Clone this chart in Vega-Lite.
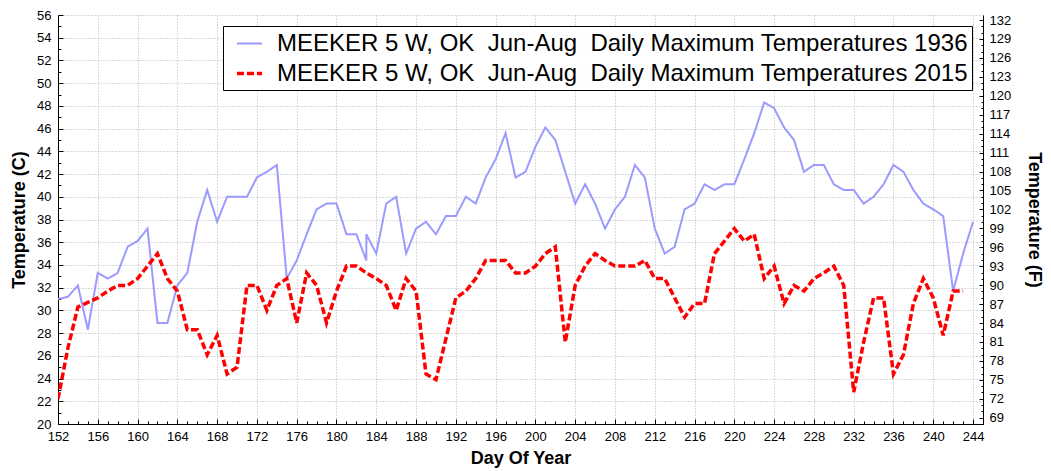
{
  "$schema": "https://vega.github.io/schema/vega-lite/v6.json",
  "width": 925,
  "height": 409,
  "autosize": "none",
  "padding": {"left": 58, "top": 15, "right": 68, "bottom": 47},
  "background": "white",
  "config": {
    "view": {"stroke": null},
    "font": "Liberation Sans",
    "axis": {
      "domainColor": "black",
      "domainWidth": 1,
      "tickColor": "black",
      "labelColor": "black",
      "labelFont": "Liberation Sans",
      "labelFontSize": 13,
      "titleFont": "Liberation Sans",
      "titleFontSize": 18,
      "titleFontWeight": "bold",
      "titleColor": "black",
      "gridColor": "#b4b4b4",
      "gridDash": [1, 2],
      "gridWidth": 1
    }
  },
  "layer": [
    {
      "data": {
        "values": [
          {"day": 152, "year": "1936", "t": 31.0},
          {"day": 153, "year": "1936", "t": 31.2},
          {"day": 154, "year": "1936", "t": 32.2},
          {"day": 155, "year": "1936", "t": 28.3},
          {"day": 156, "year": "1936", "t": 33.3},
          {"day": 157, "year": "1936", "t": 32.8},
          {"day": 158, "year": "1936", "t": 33.3},
          {"day": 159, "year": "1936", "t": 35.6},
          {"day": 160, "year": "1936", "t": 36.1},
          {"day": 161, "year": "1936", "t": 37.2},
          {"day": 162, "year": "1936", "t": 28.9},
          {"day": 163, "year": "1936", "t": 28.9},
          {"day": 164, "year": "1936", "t": 32.2},
          {"day": 165, "year": "1936", "t": 33.3},
          {"day": 166, "year": "1936", "t": 37.8},
          {"day": 167, "year": "1936", "t": 40.6},
          {"day": 168, "year": "1936", "t": 37.8},
          {"day": 169, "year": "1936", "t": 40.0},
          {"day": 170, "year": "1936", "t": 40.0},
          {"day": 171, "year": "1936", "t": 40.0},
          {"day": 172, "year": "1936", "t": 41.7},
          {"day": 173, "year": "1936", "t": 42.2},
          {"day": 174, "year": "1936", "t": 42.8},
          {"day": 175, "year": "1936", "t": 32.8},
          {"day": 176, "year": "1936", "t": 34.4},
          {"day": 177, "year": "1936", "t": 36.7},
          {"day": 178, "year": "1936", "t": 38.9},
          {"day": 179, "year": "1936", "t": 39.4},
          {"day": 180, "year": "1936", "t": 39.4},
          {"day": 181, "year": "1936", "t": 36.7},
          {"day": 182, "year": "1936", "t": 36.7},
          {"day": 183, "year": "1936", "t": 34.4},
          {"day": 183, "year": "1936", "t": 36.7},
          {"day": 184, "year": "1936", "t": 35.0},
          {"day": 185, "year": "1936", "t": 39.4},
          {"day": 186, "year": "1936", "t": 40.0},
          {"day": 187, "year": "1936", "t": 35.0},
          {"day": 188, "year": "1936", "t": 37.2},
          {"day": 189, "year": "1936", "t": 37.8},
          {"day": 190, "year": "1936", "t": 36.7},
          {"day": 191, "year": "1936", "t": 38.3},
          {"day": 192, "year": "1936", "t": 38.3},
          {"day": 193, "year": "1936", "t": 40.0},
          {"day": 194, "year": "1936", "t": 39.4},
          {"day": 195, "year": "1936", "t": 41.7},
          {"day": 196, "year": "1936", "t": 43.3},
          {"day": 197, "year": "1936", "t": 45.6},
          {"day": 198, "year": "1936", "t": 41.7},
          {"day": 199, "year": "1936", "t": 42.2},
          {"day": 200, "year": "1936", "t": 44.4},
          {"day": 201, "year": "1936", "t": 46.1},
          {"day": 202, "year": "1936", "t": 45.0},
          {"day": 203, "year": "1936", "t": 42.2},
          {"day": 204, "year": "1936", "t": 39.4},
          {"day": 205, "year": "1936", "t": 41.1},
          {"day": 206, "year": "1936", "t": 39.4},
          {"day": 207, "year": "1936", "t": 37.2},
          {"day": 208, "year": "1936", "t": 38.9},
          {"day": 209, "year": "1936", "t": 40.0},
          {"day": 210, "year": "1936", "t": 42.8},
          {"day": 211, "year": "1936", "t": 41.7},
          {"day": 212, "year": "1936", "t": 37.2},
          {"day": 213, "year": "1936", "t": 35.0},
          {"day": 214, "year": "1936", "t": 35.6},
          {"day": 215, "year": "1936", "t": 38.9},
          {"day": 216, "year": "1936", "t": 39.4},
          {"day": 217, "year": "1936", "t": 41.1},
          {"day": 218, "year": "1936", "t": 40.6},
          {"day": 219, "year": "1936", "t": 41.1},
          {"day": 220, "year": "1936", "t": 41.1},
          {"day": 221, "year": "1936", "t": 43.3},
          {"day": 222, "year": "1936", "t": 45.6},
          {"day": 223, "year": "1936", "t": 48.3},
          {"day": 224, "year": "1936", "t": 47.8},
          {"day": 225, "year": "1936", "t": 46.1},
          {"day": 226, "year": "1936", "t": 45.0},
          {"day": 227, "year": "1936", "t": 42.2},
          {"day": 228, "year": "1936", "t": 42.8},
          {"day": 229, "year": "1936", "t": 42.8},
          {"day": 230, "year": "1936", "t": 41.1},
          {"day": 231, "year": "1936", "t": 40.6},
          {"day": 232, "year": "1936", "t": 40.6},
          {"day": 233, "year": "1936", "t": 39.4},
          {"day": 234, "year": "1936", "t": 40.0},
          {"day": 235, "year": "1936", "t": 41.1},
          {"day": 236, "year": "1936", "t": 42.8},
          {"day": 237, "year": "1936", "t": 42.2},
          {"day": 238, "year": "1936", "t": 40.6},
          {"day": 239, "year": "1936", "t": 39.4},
          {"day": 240, "year": "1936", "t": 38.9},
          {"day": 241, "year": "1936", "t": 38.3},
          {"day": 242, "year": "1936", "t": 31.7},
          {"day": 243, "year": "1936", "t": 35.0},
          {"day": 244, "year": "1936", "t": 37.8},
          {"day": 152, "year": "2015", "t": 22.2},
          {"day": 153, "year": "2015", "t": 26.7},
          {"day": 154, "year": "2015", "t": 30.3},
          {"day": 155, "year": "2015", "t": 30.7},
          {"day": 156, "year": "2015", "t": 31.1},
          {"day": 157, "year": "2015", "t": 31.7},
          {"day": 158, "year": "2015", "t": 32.2},
          {"day": 159, "year": "2015", "t": 32.2},
          {"day": 160, "year": "2015", "t": 32.8},
          {"day": 161, "year": "2015", "t": 33.9},
          {"day": 162, "year": "2015", "t": 35.0},
          {"day": 163, "year": "2015", "t": 32.8},
          {"day": 164, "year": "2015", "t": 31.7},
          {"day": 165, "year": "2015", "t": 28.3},
          {"day": 166, "year": "2015", "t": 28.3},
          {"day": 167, "year": "2015", "t": 26.1},
          {"day": 168, "year": "2015", "t": 27.8},
          {"day": 169, "year": "2015", "t": 24.4},
          {"day": 170, "year": "2015", "t": 25.0},
          {"day": 171, "year": "2015", "t": 32.2},
          {"day": 172, "year": "2015", "t": 32.2},
          {"day": 173, "year": "2015", "t": 30.0},
          {"day": 174, "year": "2015", "t": 32.2},
          {"day": 175, "year": "2015", "t": 32.8},
          {"day": 176, "year": "2015", "t": 28.9},
          {"day": 177, "year": "2015", "t": 33.3},
          {"day": 178, "year": "2015", "t": 32.2},
          {"day": 179, "year": "2015", "t": 28.9},
          {"day": 180, "year": "2015", "t": 31.7},
          {"day": 181, "year": "2015", "t": 33.9},
          {"day": 182, "year": "2015", "t": 33.9},
          {"day": 183, "year": "2015", "t": 33.3},
          {"day": 184, "year": "2015", "t": 32.8},
          {"day": 185, "year": "2015", "t": 32.2},
          {"day": 186, "year": "2015", "t": 30.0},
          {"day": 187, "year": "2015", "t": 32.8},
          {"day": 188, "year": "2015", "t": 31.7},
          {"day": 189, "year": "2015", "t": 24.4},
          {"day": 190, "year": "2015", "t": 23.9},
          {"day": 191, "year": "2015", "t": 27.5},
          {"day": 192, "year": "2015", "t": 31.1},
          {"day": 193, "year": "2015", "t": 31.7},
          {"day": 194, "year": "2015", "t": 32.8},
          {"day": 195, "year": "2015", "t": 34.4},
          {"day": 196, "year": "2015", "t": 34.4},
          {"day": 197, "year": "2015", "t": 34.4},
          {"day": 198, "year": "2015", "t": 33.3},
          {"day": 199, "year": "2015", "t": 33.3},
          {"day": 200, "year": "2015", "t": 33.9},
          {"day": 201, "year": "2015", "t": 35.0},
          {"day": 202, "year": "2015", "t": 35.6},
          {"day": 203, "year": "2015", "t": 27.2},
          {"day": 204, "year": "2015", "t": 32.2},
          {"day": 205, "year": "2015", "t": 33.9},
          {"day": 206, "year": "2015", "t": 35.0},
          {"day": 207, "year": "2015", "t": 34.4},
          {"day": 208, "year": "2015", "t": 33.9},
          {"day": 209, "year": "2015", "t": 33.9},
          {"day": 210, "year": "2015", "t": 33.9},
          {"day": 211, "year": "2015", "t": 34.4},
          {"day": 212, "year": "2015", "t": 32.8},
          {"day": 213, "year": "2015", "t": 32.8},
          {"day": 214, "year": "2015", "t": 31.1},
          {"day": 215, "year": "2015", "t": 29.4},
          {"day": 216, "year": "2015", "t": 30.6},
          {"day": 217, "year": "2015", "t": 30.6},
          {"day": 218, "year": "2015", "t": 35.0},
          {"day": 219, "year": "2015", "t": 36.1},
          {"day": 220, "year": "2015", "t": 37.2},
          {"day": 221, "year": "2015", "t": 36.1},
          {"day": 222, "year": "2015", "t": 36.7},
          {"day": 223, "year": "2015", "t": 32.8},
          {"day": 224, "year": "2015", "t": 33.9},
          {"day": 225, "year": "2015", "t": 30.6},
          {"day": 226, "year": "2015", "t": 32.2},
          {"day": 227, "year": "2015", "t": 31.7},
          {"day": 228, "year": "2015", "t": 32.8},
          {"day": 229, "year": "2015", "t": 33.3},
          {"day": 230, "year": "2015", "t": 33.9},
          {"day": 231, "year": "2015", "t": 32.2},
          {"day": 232, "year": "2015", "t": 22.8},
          {"day": 233, "year": "2015", "t": 27.2},
          {"day": 234, "year": "2015", "t": 31.1},
          {"day": 235, "year": "2015", "t": 31.1},
          {"day": 236, "year": "2015", "t": 24.4},
          {"day": 237, "year": "2015", "t": 26.1},
          {"day": 238, "year": "2015", "t": 30.6},
          {"day": 239, "year": "2015", "t": 32.8},
          {"day": 240, "year": "2015", "t": 31.1},
          {"day": 241, "year": "2015", "t": 27.8},
          {"day": 242, "year": "2015", "t": 31.7},
          {"day": 243, "year": "2015", "t": 31.7}
        ]
      },
      "mark": {"type": "line", "clip": true, "strokeCap": "butt"},
      "encoding": {
        "x": {
          "field": "day",
          "type": "quantitative",
          "scale": {"domain": [152, 245], "nice": false, "zero": false},
          "axis": {
            "title": "Day Of Year",
            "values": [152,153,154,155,156,157,158,159,160,161,162,163,164,165,166,167,168,169,170,171,172,173,174,175,176,177,178,179,180,181,182,183,184,185,186,187,188,189,190,191,192,193,194,195,196,197,198,199,200,201,202,203,204,205,206,207,208,209,210,211,212,213,214,215,216,217,218,219,220,221,222,223,224,225,226,227,228,229,230,231,232,233,234,235,236,237,238,239,240,241,242,243,244,245],
            "labelExpr": "datum.value % 4 === 0 ? datum.label : ''",
            "labelFlush": false,
            "labelOverlap": false,
            "tickSize": {"condition": {"test": "datum.value % 4 === 0", "value": -5}, "value": -3},
            "gridOpacity": {"condition": {"test": "datum.value % 4 === 0 && datum.value < 245", "value": 1}, "value": 0},
            "labelPadding": 11,
            "titlePadding": 4
          }
        },
        "y": {
          "field": "t",
          "type": "quantitative",
          "scale": {"domain": [20, 56], "nice": false, "zero": false},
          "axis": {
            "title": "Temperature (C)",
            "values": [20,21,22,23,24,25,26,27,28,29,30,31,32,33,34,35,36,37,38,39,40,41,42,43,44,45,46,47,48,49,50,51,52,53,54,55,56],
            "labelExpr": "datum.value % 2 === 0 ? datum.label : ''",
            "labelOverlap": false,
            "labelFlush": false,
            "tickSize": {"condition": {"test": "datum.value % 2 === 0", "value": -5}, "value": -3},
            "gridOpacity": {"condition": {"test": "datum.value % 2 === 0", "value": 1}, "value": 0},
            "labelPadding": 12,
            "titlePadding": 8
          }
        },
        "color": {
          "field": "year",
          "type": "nominal",
          "scale": {"domain": ["1936", "2015"], "range": ["#9b9bff", "#ff0000"]},
          "legend": {
            "title": null,
            "orient": "top-right",
            "offset": 11,
            "fillColor": "white",
            "strokeColor": "black",
            "padding": 4,
            "labelFont": "Liberation Sans",
            "labelFontSize": 24,
            "labelColor": "black",
            "labelLimit": 0,
            "labelOffset": 13,
            "symbolOffset": 8,
            "symbolType": "stroke",
            "symbolSize": 625,
            "rowPadding": 3,
            "labelExpr": "'MEEKER 5 W, OK\u00a0 Jun-Aug\u00a0 Daily Maximum Temperatures ' + datum.label"
          }
        },
        "strokeDash": {
          "field": "year",
          "type": "nominal",
          "scale": {"domain": ["1936", "2015"], "range": [[1, 0], [7, 3]]}
        },
        "strokeWidth": {
          "field": "year",
          "type": "nominal",
          "scale": {"domain": ["1936", "2015"], "range": [2, 3.5]}
        }
      }
    },
    {
      "data": {"values": [{"f": 68}, {"f": 132.8}]},
      "mark": {"type": "point", "opacity": 0},
      "encoding": {
        "y": {
          "field": "f",
          "type": "quantitative",
          "scale": {"domain": [68, 132.8], "nice": false, "zero": false},
          "axis": {
            "orient": "right",
            "title": "Temperature (F)",
            "grid": false,
            "values": [68,69,70,71,72,73,74,75,76,77,78,79,80,81,82,83,84,85,86,87,88,89,90,91,92,93,94,95,96,97,98,99,100,101,102,103,104,105,106,107,108,109,110,111,112,113,114,115,116,117,118,119,120,121,122,123,124,125,126,127,128,129,130,131,132],
            "labelExpr": "(datum.value - 69) % 3 === 0 ? datum.label : ''",
            "labelOverlap": false,
            "labelFlush": false,
            "tickSize": {"condition": {"test": "(datum.value - 69) % 3 === 0", "value": -4}, "value": -2},
            "labelPadding": 10,
            "titlePadding": 14
          }
        }
      }
    }
  ],
  "resolve": {"scale": {"y": "independent"}}
}
